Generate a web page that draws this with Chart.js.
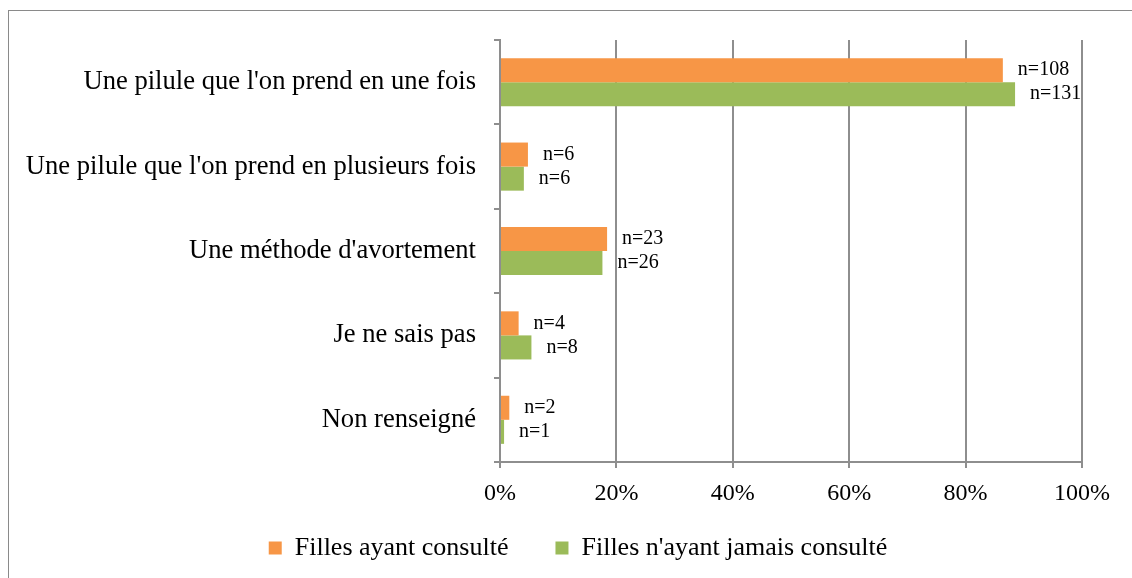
<!DOCTYPE html>
<html>
<head>
<meta charset="utf-8">
<script src="https://cdn.jsdelivr.net/npm/chart.js@4/dist/chart.umd.min.js"></script>
<style>
  body { margin: 0; background: #fff; overflow: hidden; }
</style>
</head>
<body>
<canvas id="chart" width="1132" height="578"></canvas>
<script>
// chart data
var categories = ["Une pilule que l'on prend en une fois", "Une pilule que l'on prend en plusieurs fois", "Une méthode d'avortement", "Je ne sais pas", "Non renseigné"];
var series_names = ["Filles ayant consulté", "Filles n'ayant jamais consulté"];
var consulted = [86.4, 4.8, 18.4, 3.2, 1.6];
var never_consulted = [88.5, 4.1, 17.6, 5.4, 0.7];
var consulted_n = ["n=108", "n=6", "n=23", "n=4", "n=2"];
var never_consulted_n = ["n=131", "n=6", "n=26", "n=8", "n=1"];
var tick_values = [0, 20, 40, 60, 80, 100];

var grid_color = '#8e8e8e';
Chart.defaults.font.family = "'Liberation Serif', 'Times New Roman', serif";
Chart.defaults.color = '#000';

// grey frame round the chart
var frame = {
  id: 'frame',
  beforeDraw: function(chart) {
    var ctx = chart.ctx;
    ctx.save();
    ctx.strokeStyle = '#8a8a8a';
    ctx.lineWidth = 1;
    ctx.strokeRect(8.5, 10.5, 1300, 700);
    ctx.restore();
  }
};

// move the legend under the middle of the frame, closer to the axis
var legend_shift = {
  id: 'legend_shift',
  afterLayout: function(chart) {
    var lg = chart.legend;
    lg.left += 37;
    lg.right += 37;
    lg.top -= 24;
  }
};

// "n=" labels right of each bar
var n_labels = {
  id: 'n_labels',
  afterDatasetsDraw: function(chart) {
    var ctx = chart.ctx;
    ctx.save();
    ctx.font = "20px 'Liberation Serif'";
    ctx.fillStyle = '#000';
    ctx.textAlign = 'left';
    ctx.textBaseline = 'middle';
    chart.data.datasets.forEach(function(dataset, i) {
      chart.getDatasetMeta(i).data.forEach(function(bar, j) {
        ctx.fillText(dataset.n[j], bar.x + 15, bar.y);
      });
    });
    ctx.restore();
  }
};

new Chart(document.getElementById('chart'), {
  type: 'bar',
  data: {
    labels: categories,
    datasets: [{
      label: series_names[0],
      data: consulted,
      n: consulted_n,
      backgroundColor: '#f79646',
      borderWidth: 0,
      categoryPercentage: 0.57,
      barPercentage: 1
    }, {
      label: series_names[1],
      data: never_consulted,
      n: never_consulted_n,
      backgroundColor: '#9bbb59',
      borderWidth: 0,
      categoryPercentage: 0.57,
      barPercentage: 1
    }]
  },
  options: {
    indexAxis: 'y',
    responsive: false,
    animation: false,
    layout: { padding: { left: 0, right: 50, top: 40, bottom: 0 } },
    plugins: {
      tooltip: { enabled: false },
      legend: {
        position: 'bottom',
        maxHeight: 66,
        labels: { font: { size: 26 }, boxWidth: 13, boxHeight: 13, padding: 47, color: '#000' }
      }
    },
    scales: {
      x: {
        min: 0,
        max: 100,
        afterBuildTicks: function(scale) {
          scale.ticks = tick_values.map(function(v) { return { value: v }; });
        },
        afterFit: function(scale) { scale.height = 50; },
        ticks: {
          font: { size: 24 },
          padding: 11,
          color: '#000',
          callback: function(v) { return v + '%'; }
        },
        grid: { color: grid_color, lineWidth: 2, tickLength: 6 },
        border: { color: grid_color, width: 2 }
      },
      y: {
        afterFit: function(scale) { scale.width = 500; },
        ticks: { font: { size: 26.6 }, padding: 18, color: '#000' },
        grid: { offset: true, drawOnChartArea: false, tickLength: 6, color: grid_color, lineWidth: 2 },
        border: { color: grid_color, width: 2 }
      }
    }
  },
  plugins: [frame, legend_shift, n_labels]
});
</script>
</body>
</html>
